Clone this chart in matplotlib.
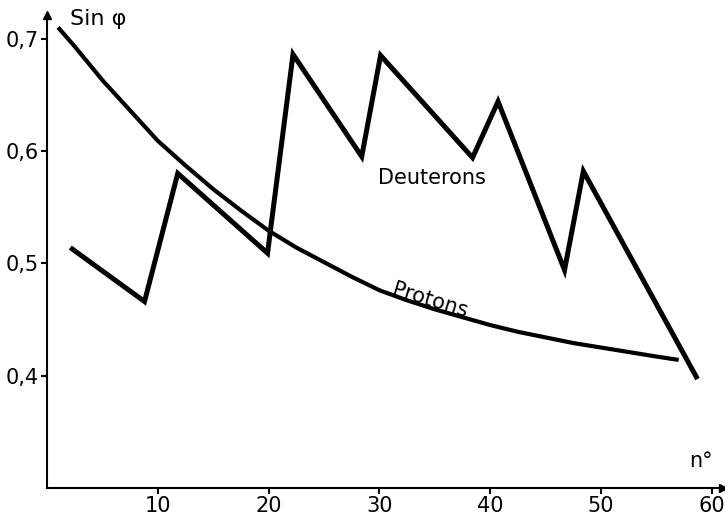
import matplotlib
matplotlib.use("Agg")
import matplotlib.pyplot as plt

# values
proton_n = [1, 2.5, 5, 7.5, 10, 12.5, 15, 17.5, 20, 22.5, 25, 27.5, 30, 32.5, 35,
            37.5, 40, 42.5, 45, 47.5, 50, 52.5, 55, 57]
proton_sin = [0.710, 0.693, 0.663, 0.636, 0.609, 0.587, 0.566, 0.547, 0.529, 0.514,
              0.501, 0.488, 0.476, 0.467, 0.459, 0.452, 0.445, 0.439, 0.434, 0.429,
              0.425, 0.421, 0.417, 0.414]

deuteron_n = [2.1, 8.8, 11.8, 19.9, 22.2, 28.4, 30.1, 38.4, 40.7, 46.7, 48.4, 58.7]
deuteron_sin = [0.514, 0.466, 0.580, 0.509, 0.686, 0.595, 0.685, 0.594, 0.644, 0.494, 0.582, 0.397]

x_ticks = [10, 20, 30, 40, 50, 60]
y_ticks = [0.4, 0.5, 0.6, 0.7]
y_tick_labels = ["0,4", "0,5", "0,6", "0,7"]

fig = plt.figure(figsize=(7.25, 5.25), dpi=100)
ax = fig.add_axes([47 / 725, 37 / 525, 676 / 725, 473 / 525])
ax.set_xlim(0, 61)
ax.set_ylim(0.3, 0.721)

ax.plot(proton_n, proton_sin, color="black", lw=3.0, solid_capstyle="butt", solid_joinstyle="round")
ax.plot(deuteron_n, deuteron_sin, color="black", lw=3.6, solid_capstyle="butt", solid_joinstyle="miter")

# axes drawn as arrows
for side in ["top", "right"]:
    ax.spines[side].set_visible(False)
for side in ["left", "bottom"]:
    ax.spines[side].set_linewidth(1.5)
ax.plot(1, 0, ">k", ms=6, transform=ax.transAxes, clip_on=False)
ax.plot(0, 1, "^k", ms=6, transform=ax.transAxes, clip_on=False)

ax.set_xticks(x_ticks)
ax.set_xticklabels([str(t) for t in x_ticks], fontsize=15)
ax.set_yticks(y_ticks)
ax.set_yticklabels(y_tick_labels, fontsize=15)
ax.tick_params(direction="out", length=4, width=1.5, pad=2)

ax.text(4.6, 0.717, "Sin φ", fontsize=16, ha="center", va="center")
ax.text(59.0, 0.324, "n°", fontsize=15, ha="center", va="center")
ax.text(34.7, 0.576, "Deuterons", fontsize=15, ha="center", va="center")
ax.text(34.6, 0.467, "Protons", fontsize=15, ha="center", va="center", rotation=-17,
        rotation_mode="anchor")

fig.savefig("out.png", dpi=100)
